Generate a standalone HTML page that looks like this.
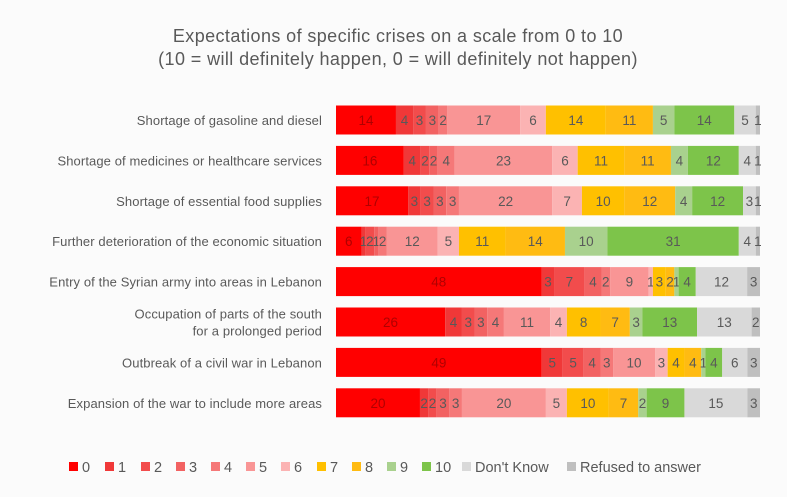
<!DOCTYPE html>
<html><head><meta charset="utf-8">
<style>
body{margin:0;background:#fff;}
svg text{font-family:"Liberation Sans",sans-serif;}
</style></head>
<body>
<svg id="chart" width="787" height="497" viewBox="0 0 787 497" xmlns="http://www.w3.org/2000/svg">
<rect width="787" height="497" fill="#fbfbfb"/>
<text x="398" y="42" text-anchor="middle" font-size="18" letter-spacing="0.4" fill="#595959">Expectations of specific crises on a scale from 0 to 10</text>
<text x="398" y="65" text-anchor="middle" font-size="18" letter-spacing="0.4" fill="#595959">(10 = will definitely happen, 0 = will definitely not happen)</text>
<g id="bars"></g>
<g id="legend"></g>
</svg>
<script>
const categories=[["Shortage of gasoline and diesel"],["Shortage of medicines or healthcare services"],["Shortage of essential food supplies"],["Further deterioration of the economic situation"],["Entry of the Syrian army into areas in Lebanon"],["Occupation of parts of the south","for a prolonged period"],["Outbreak of a civil war in Lebanon"],["Expansion of the war to include more areas"]];
const seriesNames=["0","1","2","3","4","5","6","7","8","9","10","Don't Know","Refused to answer"];
const row1=[14,4,3,3,2,17,6,14,11,5,14,5,1];
const row2=[16,4,2,2,4,23,6,11,11,4,12,4,1];
const row3=[17,3,3,3,3,22,7,10,12,4,12,3,1];
const row4=[6,1,2,1,2,12,5,11,14,10,31,4,1];
const row5=[48,3,7,4,2,9,1,3,2,1,4,12,3];
const row6=[26,4,3,3,4,11,4,8,7,3,13,13,2];
const row7=[49,5,5,4,3,10,3,4,4,1,4,6,3];
const row8=[20,2,2,3,3,20,5,10,7,2,9,15,3];
const values=[row1,row2,row3,row4,row5,row6,row7,row8];
const colors=["#ff0000","#f03838","#f24c4c","#f26262","#f57878","#f99595","#fbb3b3","#ffc000","#ffbb12","#a9d18e","#7dc44a","#d9d9d9","#bfbfbf"];
const NS="http://www.w3.org/2000/svg";
const x0=336,x1=760,top0=120,step=40.4,bh=29;
function xScale(v,total){return x0+(x1-x0)*v/total;}
function yCenter(i){return top0+i*step;}
const g=document.getElementById('bars');
values.forEach((row,i)=>{
  const total=row.reduce((a,b)=>a+b,0);
  const yc=yCenter(i);
  const lines=categories[i];
  lines.forEach((ln,k)=>{
    const t=document.createElementNS(NS,'text');
    
    
    t.setAttribute('x',322);t.setAttribute('y',yc+5+(k-(lines.length-1)/2)*17);
    t.setAttribute('text-anchor','end');t.setAttribute('font-size','13');t.setAttribute('letter-spacing','0.1');t.setAttribute('fill','#595959');
    t.textContent=ln;g.appendChild(t);
  });
  let cum=0;
  row.forEach((v,j)=>{
    const xa=xScale(cum,total),xb=xScale(cum+v,total);cum+=v;
    const r=document.createElementNS(NS,'rect');
    
    
    r.setAttribute('x',xa);r.setAttribute('y',yc-bh/2);r.setAttribute('width',Math.max(0,xb-xa));r.setAttribute('height',bh);
    r.setAttribute('fill',colors[j]);g.appendChild(r);
    const t=document.createElementNS(NS,'text');
    
    
    t.setAttribute('x',(xa+xb)/2);t.setAttribute('y',yc+5);t.setAttribute('text-anchor','middle');
    t.setAttribute('font-size','13.5');t.setAttribute('fill',j===0?'#b00000':'#595959');
    t.textContent=v;g.appendChild(t);
  });
});
const lg=document.getElementById('legend');
const lx=[69,105,141,176,211,246,281,317,352,387,422,462,567];
seriesNames.forEach((n,j)=>{
  const r=document.createElementNS(NS,'rect');
  
  
  r.setAttribute('x',lx[j]);r.setAttribute('y',462);r.setAttribute('width',9);r.setAttribute('height',9);
  r.setAttribute('fill',colors[j]);lg.appendChild(r);
  const t=document.createElementNS(NS,'text');
  
  
  t.setAttribute('x',lx[j]+13);t.setAttribute('y',472);t.setAttribute('font-size','14.5');t.setAttribute('fill','#595959');
  t.textContent=n;lg.appendChild(t);
});
</script>
</body></html>
